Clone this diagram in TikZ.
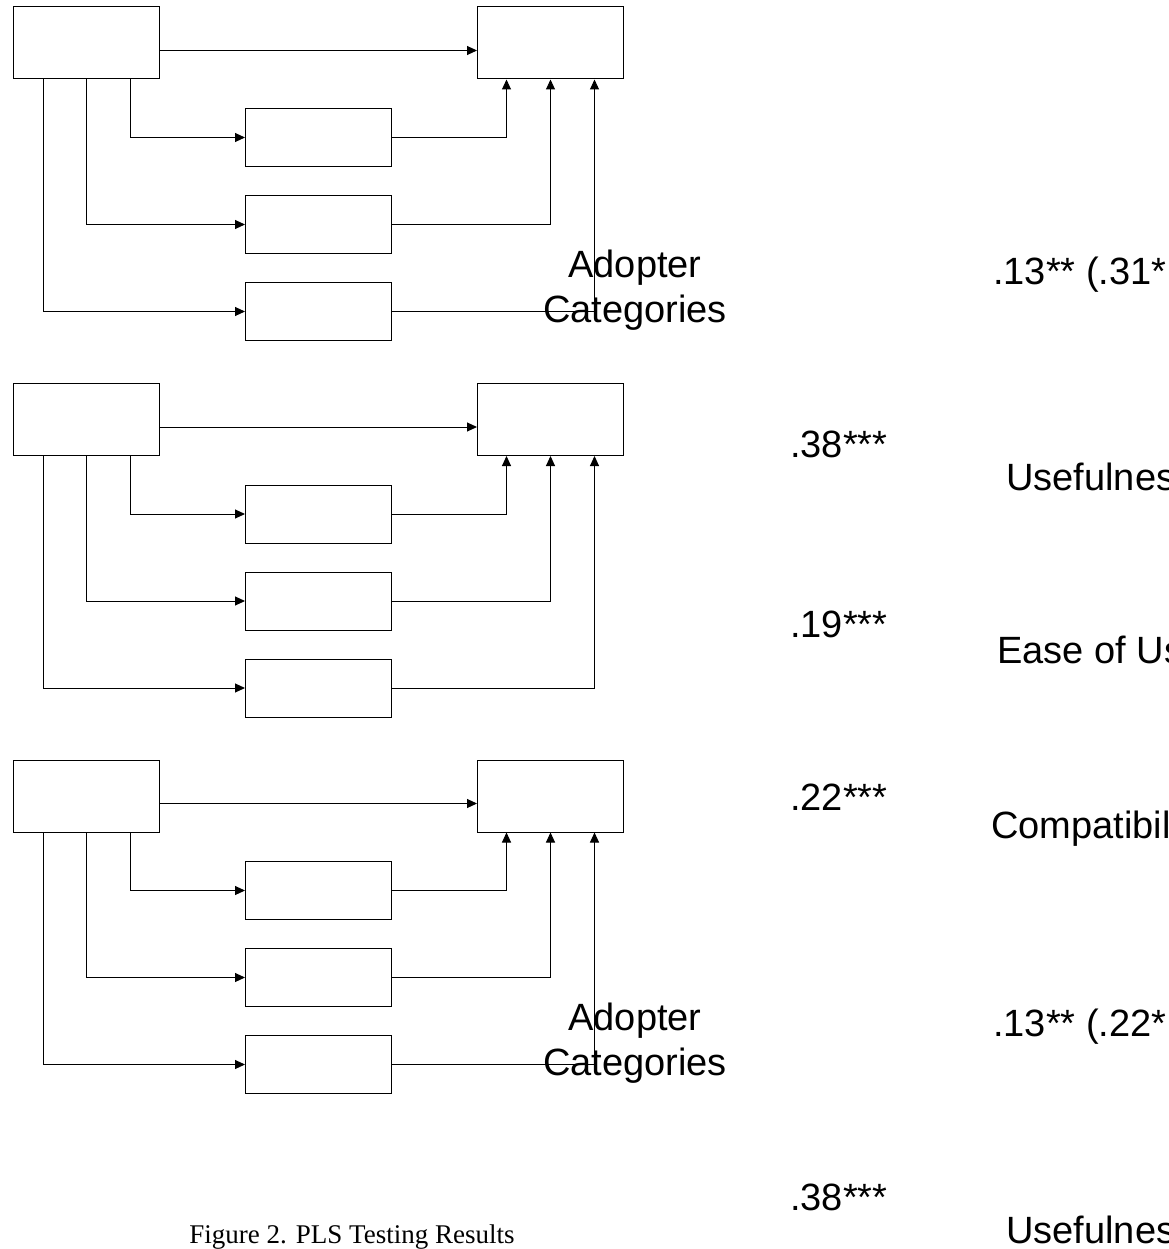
\documentclass[tikz,border=0pt]{standalone}
\usepackage{fontspec}
\setmainfont{Liberation Sans}
\newfontfamily\captionfont{Liberation Serif}
\usetikzlibrary{arrows.meta,positioning}

\tikzset{
  box/.style={draw, line width=1pt, minimum width=146pt, minimum height=58pt, inner sep=0pt},
  bigbox/.style={box, minimum height=72pt},
  link/.style={-{Triangle[length=10pt,width=9pt]}, line width=1pt},
  coef/.style={anchor=base west, inner sep=0pt, font=\fontsize{38}{45}\selectfont},
  catlabel/.style={anchor=base, inner sep=0pt, font=\fontsize{38}{45}\selectfont},
}

\begin{document}
\begin{tikzpicture}[x=1pt, y=-1pt]
	\useasboundingbox (0,0) rectangle (1168,1249);
	\clip (0,0) rectangle (1168,1249);

	% three copies of the same model
	\foreach \b/\dy in {1/0, 2/376.5, 3/753} {
		\node[bigbox] (src\b) at (86, 43+\dy) {};
		\node[bigbox] (tgt\b) at (550.5, 43+\dy) {};
		\node[box] (med\b a) at (318.5, 137.5+\dy) {};
		\node[box] (med\b b) at (318.5, 224.5+\dy) {};
		\node[box] (med\b c) at (318.5, 311.5+\dy) {};

		\draw[link] ([yshift=-7.5pt]src\b.east) -- ([yshift=-7.5pt]tgt\b.west);
		\draw[link] ([xshift=44pt]src\b.south) |- (med\b a.west);
		\draw[link] (src\b.south) |- (med\b b.west);
		\draw[link] ([xshift=-43pt]src\b.south) |- (med\b c.west);
		\draw[link] (med\b a.east) -| ([xshift=-44pt]tgt\b.south);
		\draw[link] (med\b b.east) -| (tgt\b.south);
		\draw[link] (med\b c.east) -| ([xshift=44pt]tgt\b.south);
	}

	% labels
	\node[catlabel] (adopt1) at (635, 277) {Adopter};
	\node[catlabel] (categ1) at ([yshift=-45pt]adopt1.base) {Categories};
	\node[catlabel] (adopt3) at (635, 1030) {Adopter};
	\node[catlabel] (categ3) at ([yshift=-45pt]adopt3.base) {Categories};

	\node[coef] (c13a) at (993, 284) {.13** (.31*};
	\node[coef] (c38a) at (790, 457) {.38***};
	\node[coef] (useful1) at (1006, 490) {Usefulness};
	\node[coef] (c19) at (790, 637) {.19***};
	\node[coef] (ease) at (997, 663) {Ease of Use};
	\node[coef] (c22) at (790, 810) {.22***};
	\node[coef] (compat) at (991, 838) {Compatibility};
	\node[coef] (c13b) at (993, 1036) {.13** (.22*};
	\node[coef] (c38b) at (790, 1210) {.38***};
	\node[coef] (useful2) at (1006, 1243) {Usefulness};

	\node[anchor=base, inner sep=0pt, font=\captionfont\fontsize{27}{30}\selectfont] (caption) at (352, 1243) {Figure 2. PLS Testing Results};
\end{tikzpicture}
\end{document}
